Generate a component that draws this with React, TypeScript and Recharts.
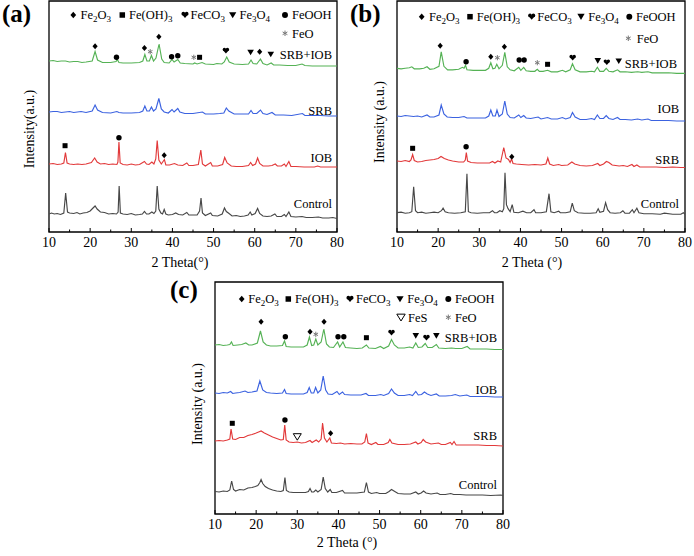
import React from "react";
import { LineChart, Line, XAxis, YAxis, ReferenceArea, ReferenceDot } from "recharts";

type Pt = [number, number];
type Mark = [number, number, string];

const SERIF = "'Times New Roman', 'Liberation Serif', serif";
const thetaTicks = [10, 15, 20, 25, 30, 35, 40, 45, 50, 55, 60, 65, 70, 75, 80];
const traceColors = ["#474747", "#e2393a", "#3b62e0", "#55b255"];
const phases: [string, string][] = [["d", "Fe2O3"], ["s", "Fe(OH)3"], ["h", "FeCO3"], ["t", "Fe3O4"], ["c", "FeOOH"]];

// ---------- panel (a) ----------
const aNames = ["Control", "IOB", "SRB", "SRB+IOB"];
const aOffsets = [18, 68, 120, 171];
const aControl: Pt[] = [[10,0],[10.6,1],[11.3,0],[12,0.5],[12.8,-0.5],[13.6,1],[14.05,21],[14.5,2],[15,1],[16,0.5],[16.8,1.5],[17.5,0],[18.3,1],[19.2,1.5],[20,3],[20.7,6],[21.2,8],[21.7,5],[22.5,2],[23.5,1.5],[24.5,0],[25.5,0.5],[26.4,0],[26.8,2],[27.05,28],[27.35,1],[28,0],[29,-0.5],[30,0.5],[31,-1],[32,-0.5],[32.7,0],[33.2,2.5],[33.7,0],[34.3,0],[35,2],[35.5,0.5],[35.95,3],[36.3,28],[36.7,5],[37.2,1],[37.6,0],[38,4.5],[38.4,0],[39,-1],[40,-0.5],[40.8,1],[41.5,-0.5],[42.5,-1],[43.5,1.5],[44,-1],[45,-1],[46,-1],[46.6,3],[46.95,16],[47.3,1],[48,-1.5],[49.3,1],[49.7,-1.5],[51,-2],[52.1,0],[52.65,6],[53.1,2.5],[53.6,1],[54.5,-2],[55.5,-1.5],[56.5,-2.5],[57.5,-2],[58.4,-1],[58.9,2],[59.3,-1],[60.1,0.5],[60.7,5.5],[61.2,0.5],[62,-2],[63,-2.5],[64,-2],[64.9,0],[65.4,-2.5],[66.5,-2.5],[67.2,-0.5],[67.6,-2.5],[68.3,2],[68.8,-2.5],[70,-3],[71.5,-2.5],[72.5,-3.5],[74,-3.5],[75.5,-3],[76.5,-4],[78,-4],[79,-3.5],[80,-4.5]];
const aIOB: Pt[] = [[10,0],[11,0.5],[12,-0.5],[13,0],[13.6,1],[14,11.5],[14.4,1],[15,0],[16,-0.5],[17,0],[18,-0.5],[19,0],[20.3,1.5],[21.1,6],[21.7,2],[22.5,0],[23.5,0.5],[24.5,-0.5],[25.5,0],[26.5,-0.5],[26.75,2],[27,22],[27.3,1],[28,-0.5],[29,-1],[30,0],[31,-1],[32,-0.5],[33.2,2.5],[33.7,0],[34.3,-0.5],[35,2],[35.5,0],[35.95,5],[36.3,23.5],[36.7,4],[37.3,0],[38.05,4.5],[38.4,-1],[39.3,-1],[40.5,0.5],[41.3,-1],[42.5,-1.5],[43.5,1],[44,-1.5],[45,-1.5],[46.3,-0.5],[46.9,14],[47.3,0],[48,-2],[49.3,1.5],[49.7,-2],[51,-2],[52.2,-0.5],[52.7,6.5],[53.3,1],[54.3,-2],[55.5,-2.5],[57,-2.5],[58.5,-1.5],[59,1.5],[59.5,-1.5],[60.2,0],[60.7,6],[61.2,0.5],[62,-2],[63.3,-2],[64.2,-1.5],[65,0],[65.5,-2],[66.5,-2],[67.2,0],[67.6,-2.5],[68.3,2.5],[68.8,-2.5],[70,-2.5],[72,-3],[74.5,-3],[75.3,-2],[76,-3],[78,-3],[80,-3]];
const aSRB: Pt[] = [[10,0],[11,0.5],[12,0.5],[13,-0.5],[14,0],[15,0.5],[16,-0.5],[17.8,0.5],[19,-0.5],[20.5,1],[21.2,7],[21.8,2],[23,-0.5],[25,-1],[26.5,0.5],[27,-0.5],[28,-1],[30,-1],[32,-0.5],[32.8,1],[33.3,6],[33.8,1],[34.4,1],[34.9,5],[35.4,1],[36,3],[36.7,13.5],[37.3,3],[38,0],[39,-1],[39.9,2.5],[40.4,0],[41.3,3.5],[41.8,0],[43,-1.5],[45,-1.5],[47.3,0],[48,-2],[50,-2],[51.5,-1.5],[52.5,-1],[53.1,4],[53.7,1],[55,-2],[57,-2],[58.5,-2],[59.1,1.5],[59.6,-1.5],[60.5,-1.5],[61.4,2],[62,-1.5],[63,-2.5],[64.2,-0.5],[65,-3],[67,-3],[69,-3.5],[71.6,-1.5],[72.2,-3.5],[74,-3.5],[76,-3.5],[78,-4],[80,-4]];
const aMixed: Pt[] = [[10,0],[11,0.5],[12,-0.5],[13,0],[14,0],[15,-1],[16,-0.5],[17,-0.5],[18,-1.5],[19,-1],[20.5,0],[21.2,9.5],[21.8,1],[23,-1.5],[25,-1.5],[26.3,-0.5],[26.6,1.5],[27,-1.5],[28,-2],[30,-2],[32,-1.5],[32.8,0],[33.3,6.5],[33.8,0],[34.4,0],[34.9,5.5],[35.4,0],[36,3],[36.75,17],[37.4,2],[38,-1.5],[39.2,-2],[39.9,1.5],[40.4,-1],[41.3,1.5],[41.9,-2],[43,-2.5],[45,-3],[45.4,-2],[46,-3],[47.2,-1.5],[48,-3],[50,-3.5],[50.8,-2.5],[52,-3],[52.6,-1],[53.2,4],[53.8,-1],[55,-3],[57,-3.5],[58.5,-3],[59.1,1],[59.6,-2.5],[60.5,-3],[61.4,2],[62,-2.5],[63,-4],[64,-2],[64.6,-4],[66,-4],[68,-4.5],[70,-4.5],[71.5,-3],[72.2,-4.5],[74,-5],[76,-5],[78,-5],[80,-5]];
const aMarks: Mark[] = [[13.9,86.3,"s"],[27,94.3,"c"],[38,76.7,"d"],[21.2,185.7,"d"],[26.4,174.7,"c"],[33.2,184,"d"],[34.6,180.3,"a"],[36.7,195.3,"d"],[39.8,175.3,"c"],[41.3,176.3,"c"],[45.2,174.7,"a"],[46.6,174.7,"s"],[53,181.3,"h"],[59,179.7,"t"],[61.2,180.3,"d"],[63.9,177.7,"t"]];

// ---------- panel (b) ----------
const bNames = ["Control", "SRB", "IOB", "SRB+IOB"];
const bOffsets = [19.3, 71, 116, 163.7];
const bControl: Pt[] = [[10,0],[11,0.5],[12,-0.5],[13,0],[13.6,1],[14.05,26],[14.5,2],[15,0],[16,0.5],[17,-0.5],[18,0],[19,0.5],[20,0],[20.8,2],[21.2,4.5],[21.7,1],[22.5,0],[24,-0.5],[25.5,0],[26.6,1],[27,39],[27.35,1],[28,0],[29.5,-0.5],[31,0],[32.5,0],[33.2,2],[33.7,0],[34.3,0],[35,2],[35.6,1],[35.95,4],[36.25,40],[36.6,8],[37,4],[37.5,1],[38,8],[38.4,0.5],[39.5,0],[40.6,1.5],[41.5,0],[42.5,0],[43.3,3],[43.7,0],[45,0],[46.3,1],[46.95,19],[47.4,1],[48.2,0],[49.3,1.5],[49.7,0],[51,0],[52.1,1],[52.6,9.5],[53.1,2],[54,0],[55.5,-0.5],[57,-0.5],[58.4,0],[58.9,4],[59.3,0.5],[60.2,1.5],[60.7,10],[61.2,3],[61.8,0],[63,-0.5],[64.3,0],[64.9,2],[65.4,-0.5],[66.5,-0.5],[67.2,3],[67.6,0],[68.3,4.5],[68.8,0],[70,-1],[72,-1],[74,-1.5],[75,-0.5],[77,-1.5],[79,-1.5],[79.6,0],[80,-1.5]];
const bSRB: Pt[] = [[10,0],[11,-0.5],[12,0.5],[13,-0.5],[13.4,1],[13.8,6.5],[14.2,0.5],[15,-1],[16,-0.5],[17,0.5],[18,1],[19,1.5],[20,2.5],[20.7,4.5],[21.5,2.5],[22.5,1],[23.5,0],[25,-1],[26.2,-1],[26.6,1],[26.85,8.5],[27.15,0],[28,-1.5],[29.5,-2],[31,-2],[32.5,-2],[33.2,-0.5],[33.8,-2],[34.5,0],[35.2,-1],[35.95,13.5],[36.5,3],[37.1,1.5],[37.5,-1.5],[37.85,2],[38.2,-2.5],[39,-3],[40.3,-3.5],[42,-4],[43.5,-3.5],[45,-4],[46.2,-3],[46.65,3],[47.1,-3],[48,-4.5],[49.3,-3.5],[50,-4.5],[51.5,-4],[52.5,-1],[53.2,-3],[54.5,-4.5],[56,-5],[57.5,-4.5],[58.8,-2.5],[59.3,-4.5],[60.2,-3],[60.9,-0.5],[61.5,-1.5],[62.3,-4],[64,-5],[65,-4.5],[66,-5.5],[67.1,-3.5],[67.6,-5.5],[68.3,-4],[69,-6],[71,-6],[73,-6],[75,-6.5],[77,-6],[79,-6.5],[80,-6.5]];
const bIOB: Pt[] = [[10,0],[11,-0.5],[12,0.5],[13,0],[14,-0.5],[15,0],[16,-1],[17.3,1],[18,-1],[19,-1],[20.2,1],[20.75,11],[21.4,2],[22.2,-1],[23.5,-1.5],[25,-1.5],[26.3,-0.5],[27,-2],[28.5,-2],[30,-2],[31.5,-2],[32.3,0],[32.8,6],[33.3,0],[33.9,0],[34.3,6],[34.8,-0.5],[35.6,2],[36.2,15],[36.8,2],[37.5,-1.5],[38.5,-2],[39.6,1],[40.1,-1.5],[40.8,0.5],[41.4,-2],[42.5,-2.5],[44.3,-1],[45,-3],[46.6,-1.5],[47.5,-3],[49,-3],[50.2,-1.5],[51,-3],[52.1,-1.5],[52.65,3.5],[53.3,-1],[54.5,-3.5],[56,-3.5],[57.3,-2.5],[58,-3.5],[58.7,1],[59.3,-2.5],[60.2,-2.5],[60.85,0.5],[61.5,-2.5],[62.5,-3.5],[63.6,-1.5],[64.2,-3.5],[65.5,-3.5],[67,-4],[68.5,-3],[69.5,-4],[71,-3],[71.8,-4.5],[74,-4.5],[76,-4.5],[78,-5],[80,-5]];
const bMixed: Pt[] = [[10,0],[11,-0.5],[12,0],[13,0.5],[13.6,1.5],[14.2,-0.5],[15.5,-0.5],[16.5,0],[17.3,1.5],[18,-1],[19,-0.5],[20.2,2],[20.75,16.5],[21.4,2],[22.3,-1.5],[23.5,-1.5],[25,-1],[25.9,1],[26.3,0],[26.65,3],[27,-1.5],[28.5,-2],[30,-2],[31.5,-2],[32.3,0],[32.8,5.5],[33.3,-0.5],[33.8,0],[34.25,4],[34.8,-0.5],[35.6,3],[36.2,16],[36.8,1.5],[37.5,-1.5],[38.5,-2.5],[39.6,1],[40.1,-2],[40.8,1],[41.4,-2.5],[42.5,-3],[43.5,-3],[44.1,-1],[44.6,-3],[45.5,-3],[46.6,-2],[47.5,-3.5],[49,-3.5],[50.2,-2],[51,-3.5],[52.1,-1.5],[52.65,4.5],[53.3,-1.5],[54.5,-3.5],[56,-3.5],[57.3,-3],[58,-3.5],[58.7,1],[59.3,-3],[60.2,-3],[60.85,0],[61.5,-3],[62.5,-3.5],[63.6,-1.5],[64.2,-3.5],[65.5,-3.5],[67,-4],[68.5,-3.5],[69.5,-4],[71,-3.5],[72,-4.5],[74,-4.5],[76,-4.5],[78,-5],[80,-5]];
const bMarks: Mark[] = [[13.8,83.7,"s"],[26.8,85.3,"c"],[37.9,75.3,"d"],[20.5,186.3,"d"],[26.8,170.3,"c"],[32.8,175.3,"d"],[34.4,174.3,"a"],[36.1,185.3,"d"],[39.7,172,"c"],[40.9,172,"c"],[44.1,169.3,"a"],[46.6,167.7,"s"],[52.7,174.3,"h"],[58.8,171.3,"t"],[61,169.7,"h"],[63.9,171,"t"]];

// ---------- panel (c) ----------
const cNames = ["Control", "SRB", "IOB", "SRB+IOB"];
const cOffsets = [22.5, 73, 121, 169];
const cControl: Pt[] = [[10,0],[11,-0.5],[12,0.5],[13,0],[13.6,1.5],[14.05,10.5],[14.5,2],[15,0.5],[16,2],[17,1.5],[18,3.5],[19,4],[19.8,5],[20.4,6],[20.9,9],[21.2,12],[21.6,8],[22.2,5],[23,3],[24,1.5],[25,0.5],[26,0],[26.6,1],[27,14],[27.35,1],[28,-0.5],[29,-1],[30.5,-1],[32,-1],[32.7,0],[33.1,3],[33.5,-0.5],[34,-0.5],[34.5,1.5],[35,-0.5],[35.8,2],[36.3,14.5],[36.8,3],[37.4,-0.5],[38,2],[38.4,-1],[39.5,-1],[41,1],[41.5,-1.5],[43,-1.5],[44.5,-1.5],[46.3,-0.5],[46.8,9],[47.3,-0.5],[48,-2],[49.3,-1],[50,-2],[51.5,-2],[52.3,0],[52.9,2],[53.5,0.5],[54.5,-2],[56,-2.5],[57.5,-2.5],[58.8,-0.5],[59.4,-2.5],[60.1,-1.5],[60.7,0.5],[61.3,-1.5],[62.5,-2.5],[64,-1.5],[64.7,-3],[66,-3],[67.3,-2],[68,-3],[69.5,-3],[71,-3.5],[73,-3.5],[75,-3.5],[77,-4],[79.5,-3.5],[80,-4]];
const cSRB: Pt[] = [[10,0],[11,0.5],[12,0],[13,1],[13.6,2],[13.9,12],[14.3,2],[15,1.5],[16,3.5],[17,3.5],[18,5.5],[19,6.5],[20,8],[20.6,9],[21.2,10],[22,8],[23,6],[24,4],[25,2.5],[26,1],[26.6,1.5],[26.95,16],[27.3,1],[28,-1],[29,-1.5],[30,-1],[31,-2],[32,-1.5],[33.1,0.5],[33.6,-1.5],[34.6,1],[35.2,-1],[35.8,2],[36.15,18],[36.6,3],[37.2,-1],[37.9,3],[38.3,-2],[39.5,-2.5],[40.5,-2],[41.5,-3],[43,-2.5],[44.5,-3],[45.7,-3],[46.4,-1],[46.8,7.5],[47.2,-2],[48,-3.5],[49.1,-1.5],[49.6,-3.5],[51,-3.5],[52.1,-1.5],[52.5,1.5],[53,-2],[54.5,-3.5],[56,-3.5],[57.5,-3],[58.8,-1],[59.3,-3],[60.1,-1.5],[60.6,1.5],[61.2,-1],[62.5,-3],[64.3,-2],[65,-3.5],[66,-3.5],[67.2,-1.5],[67.6,-3.5],[68.1,-0.5],[68.6,-4],[70,-4],[72,-4],[74,-4],[76,-4.5],[78,-4.5],[80,-5]];
const cIOB: Pt[] = [[10,0],[11,-0.5],[12,0.5],[13,0],[13.8,1.5],[14.3,-0.5],[15,0],[16,0.5],[17.3,2],[18,0.5],[19,1],[20.2,2],[20.9,12],[21.6,3],[22.5,0.5],[23.5,0],[25,-0.5],[26.4,0],[26.9,3.5],[27.3,-0.5],[28.5,-1],[30,-1],[31.5,-1],[32.4,0.5],[32.9,5.5],[33.4,0],[34,0],[34.45,5.5],[35,0],[35.7,3],[36.3,17],[36.9,3],[37.5,-1],[38.5,-1.5],[39.65,1.5],[40.2,-1.5],[41,1],[41.5,-1.5],[43,-2],[44.5,-2],[45.5,-2],[46.7,-0.5],[47.3,-2.5],[49,-2.5],[50.3,-1.5],[51,-2.5],[52.2,-0.5],[52.9,4],[53.6,0],[54.5,-2.5],[56,-2.5],[57.3,-1.5],[58,-2.5],[58.8,1.5],[59.4,-2],[60.2,-1.5],[60.9,1],[61.6,-1],[62.5,-2.5],[63.8,-1],[64.5,-3],[66,-3],[67.5,-2.5],[68.4,-1.5],[69.5,-3],[71.2,-2],[72,-3.5],[74,-3.5],[76,-3.5],[78,-4],[80,-4]];
const cMixed: Pt[] = [[10,0],[11,0.5],[12,-0.5],[13,0],[13.6,0.5],[14,3],[14.4,-0.5],[15.5,0],[16.5,0.5],[17.5,2],[18.2,0],[19,0],[20.3,2],[21.05,14],[21.7,3],[22.5,0],[23.5,-1],[25,-1],[26.4,-0.5],[26.9,4],[27.3,-1.5],[28.5,-2],[30,-2],[31.5,-2],[32.4,0],[32.95,8],[33.5,-0.5],[34,0],[34.5,6],[35,0],[35.8,3],[36.45,16],[37.1,1],[37.8,-2],[38.8,-2.5],[39.8,3],[40.3,-2],[41.1,3],[41.7,-2.5],[43,-3],[44.5,-3.5],[45.8,-3],[46.8,0],[47.4,-3],[49,-3.5],[50.2,-1.5],[51,-3.5],[52.2,-1],[52.9,5.5],[53.6,0],[54.5,-3],[56,-3],[57.3,-2],[58.1,-3],[58.8,2],[59.4,-2.5],[60.3,-2],[61.1,1.5],[61.7,-2.5],[62.8,-2.5],[63.8,0.5],[64.4,-3],[66,-3.5],[67.5,-3],[68.5,-3.5],[70,-3.5],[71.3,-1.5],[72,-4],[74,-4],[76,-4],[78,-4.5],[80,-4.5]];
const cMarks: Mark[] = [[14.2,90.7,"s"],[27,94,"c"],[30,77.3,"v"],[38.1,80.7,"d"],[21.2,192.3,"d"],[27.1,177.3,"c"],[33.1,182.3,"d"],[34.5,179.7,"a"],[36.5,192.3,"d"],[39.9,177.3,"c"],[41.3,177.3,"c"],[46.8,176.3,"s"],[52.9,181.3,"h"],[58.8,178.3,"t"],[61.4,176.3,"h"],[63.8,178.3,"t"]];

function Symbol({ kind, cx, cy, k = 1 }: { kind: string; cx: number; cy: number; k?: number }) {
  const f = "#000";
  if (kind === "d") return <path d={`M${cx},${cy - 3 * k}L${cx + 2.6 * k},${cy}L${cx},${cy + 3 * k}L${cx - 2.6 * k},${cy}Z`} fill={f} />;
  if (kind === "s") return <rect x={cx - 2.5 * k} y={cy - 2.5 * k} width={5 * k} height={5 * k} fill={f} />;
  if (kind === "c") return <circle cx={cx} cy={cy} r={2.7 * k} fill={f} />;
  if (kind === "t") return <path d={`M${cx - 3.3 * k},${cy - 2.6 * k}L${cx + 3.3 * k},${cy - 2.6 * k}L${cx},${cy + 3 * k}Z`} fill={f} />;
  if (kind === "v") return <path d={`M${cx - 4 * k},${cy - 3 * k}L${cx + 4 * k},${cy - 3 * k}L${cx},${cy + 3.5 * k}Z`} fill="none" stroke={f} strokeWidth={1} />;
  if (kind === "h")
    return (
      <g fill={f}>
        <circle cx={cx - 1.5 * k} cy={cy - 1.2 * k} r={1.7 * k} />
        <circle cx={cx + 1.5 * k} cy={cy - 1.2 * k} r={1.7 * k} />
        <path d={`M${cx - 3.1 * k},${cy - 0.8 * k}L${cx + 3.1 * k},${cy - 0.8 * k}L${cx},${cy + 2.8 * k}Z`} />
      </g>
    );
  const r = 2.6 * k;
  return (
    <g stroke="#777" strokeWidth={1}>
      <line x1={cx} y1={cy - r} x2={cx} y2={cy + r} />
      <line x1={cx - r * 0.87} y1={cy - r / 2} x2={cx + r * 0.87} y2={cy + r / 2} />
      <line x1={cx - r * 0.87} y1={cy + r / 2} x2={cx + r * 0.87} y2={cy - r / 2} />
    </g>
  );
}

function ThetaTick(props: any) {
  const { x, y, payload } = props;
  const major = payload.value % 10 === 0;
  return (
    <g>
      <line x1={x} x2={x} y1={y} y2={y - (major ? 4 : 2.5)} stroke="#000" strokeWidth={1} />
      {major && (
        <text x={x} y={y + 15} textAnchor="middle" fontFamily={SERIF} fontSize={14} fill="#000">
          {payload.value}
        </text>
      )}
    </g>
  );
}

function Panel({ x, y, w, h, traces, offsets, marks }: { x: number; y: number; w: number; h: number; traces: Pt[][]; offsets: number[]; marks: Mark[] }) {
  const pad = 20;
  const top = 4;
  return (
    <div style={{ position: "absolute", left: x - pad, top: y - top }}>
      <LineChart width={w + pad * 2} height={h + top + 26} margin={{ top, right: pad, bottom: 0, left: pad }}>
        <XAxis type="number" dataKey="t" domain={[10, 80]} ticks={thetaTicks} interval={0} allowDataOverflow axisLine={false} tickLine={false} tickSize={0} tickMargin={0} height={26} tick={ThetaTick} />
        <YAxis hide type="number" domain={[0, h]} allowDataOverflow />
        {traces.map((pts, i) => (
          <Line
            key={i}
            data={pts.map(([t, v]) => ({ t, v: v + offsets[i] }))}
            dataKey="v"
            type="linear"
            stroke={traceColors[i]}
            strokeWidth={1.15}
            dot={false}
            isAnimationActive={false}
          />
        ))}
        {marks.map(([t, v, k], i) => (
          <ReferenceDot key={i} x={t} y={v} r={3} shape={(p: any) => <Symbol kind={k} cx={p.cx} cy={p.cy} />} />
        ))}
        <ReferenceArea x1={10} x2={80} y1={0} y2={h} fill="none" stroke="#000" strokeWidth={1.3} ifOverflow="visible" />
      </LineChart>
    </div>
  );
}

function Chem({ s }: { s: string }) {
  const parts = s.split(/(\d)/).filter((p) => p !== "");
  let sub = false;
  return (
    <>
      {parts.map((p, i) => {
        const isDigit = /\d/.test(p);
        const dy = isDigit ? 3 : sub ? -3 : 0;
        sub = isDigit;
        return (
          <tspan key={i} dy={dy} fontSize={isDigit ? 9 : 12.5}>
            {p}
          </tspan>
        );
      })}
    </>
  );
}

function Legend({ y, sx, tx, extra }: { y: number; sx: number[]; tx: number[]; extra: { y: number; items: [string, string, number, number][] } }) {
  return (
    <g fontFamily={SERIF} fontSize={12.5} fill="#000">
      {phases.map(([k, name], i) => (
        <g key={name}>
          <Symbol kind={k} cx={sx[i]} cy={y} k={1.1} />
          <text x={tx[i]} y={y + 4.3}>
            <Chem s={name} />
          </text>
        </g>
      ))}
      {extra.items.map(([k, name, s, t]) => (
        <g key={name}>
          <Symbol kind={k} cx={s} cy={extra.y} k={1.05} />
          <text x={t} y={extra.y + 4.3}>{name}</text>
        </g>
      ))}
    </g>
  );
}

function Labels({ names, ends, ys }: { names: string[]; ends: number[]; ys: number[] }) {
  return (
    <g fontFamily={SERIF} fontSize={12.5} fill="#000" textAnchor="end">
      {names.map((n, i) => (
        <text key={n} x={ends[i]} y={ys[i] + 4.3}>{n}</text>
      ))}
    </g>
  );
}

export default function App() {
  return (
    <div style={{ position: "absolute", left: 0, top: 0, width: 694, height: 556, background: "#fff" }}>
      <Panel x={49} y={1} w={288} h={231} traces={[aControl, aIOB, aSRB, aMixed]} offsets={aOffsets} marks={aMarks} />
      <Panel x={397} y={1} w={288} h={231} traces={[bControl, bSRB, bIOB, bMixed]} offsets={bOffsets} marks={bMarks} />
      <Panel x={215} y={282} w={288} h={232} traces={[cControl, cSRB, cIOB, cMixed]} offsets={cOffsets} marks={cMarks} />
      <svg width={694} height={556} style={{ position: "absolute", left: 0, top: 0, pointerEvents: "none" }}>
        <g fontFamily={SERIF} fontWeight="bold" fontSize={25} fill="#000">
          <text x={2} y={22}>(a)</text>
          <text x={350} y={22}>(b)</text>
          <text x={170} y={298}>(c)</text>
        </g>
        <g fontFamily={SERIF} fontSize={14} fill="#000" textAnchor="middle">
          <text x={180} y={267}>2 Theta(°)</text>
          <text x={532} y={267}>2 Theta (°)</text>
          <text x={347} y={547}>2 Theta (°)</text>
          <text x={34} y={129} transform="rotate(-90 34 129)">Intensity(a.u.)</text>
          <text x={384} y={122} transform="rotate(-90 384 122)">Intensity (a.u.)</text>
          <text x={202} y={404} transform="rotate(-90 202 404)">Intensity (a.u.)</text>
        </g>
        <Legend y={15} sx={[73.3, 122.3, 185, 232.7, 285]} tx={[80.5, 129, 190.5, 239.5, 292]} extra={{ y: 33.3, items: [["a", "FeO", 285, 292]] }} />
        <Legend y={16.7} sx={[421.7, 470, 531.7, 581, 629.3]} tx={[429, 476.7, 537.3, 588.3, 636]} extra={{ y: 38.3, items: [["a", "FeO", 628.3, 636.7]] }} />
        <Legend y={299} sx={[241.7, 288.3, 350, 400, 448.3]} tx={[248.3, 295, 356, 407.3, 455]} extra={{ y: 317.3, items: [["v", "FeS", 401, 408], ["a", "FeO", 448.3, 455]] }} />
        <Labels names={aNames} ends={[332, 332, 332, 332]} ys={[204, 157.7, 110.3, 55]} />
        <Labels names={bNames} ends={[679, 679, 679, 677]} ys={[204, 159.3, 108.3, 63.3]} />
        <Labels names={cNames} ends={[497, 497, 497, 497]} ys={[484.3, 436, 389.3, 337.7]} />
      </svg>
    </div>
  );
}
